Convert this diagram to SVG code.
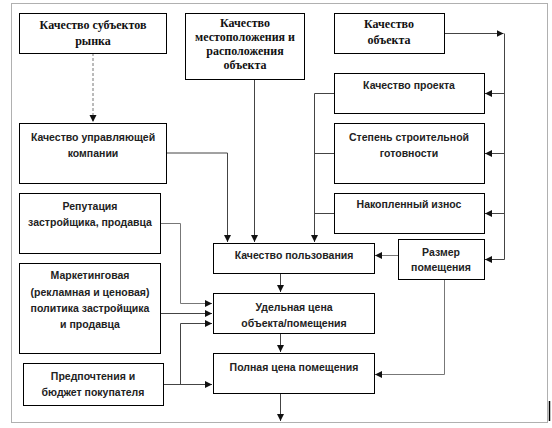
<svg xmlns="http://www.w3.org/2000/svg" width="552" height="428" viewBox="0 0 552 428">
<style>
.box{fill:#fff;stroke:#000;stroke-width:1}
.s{font-family:"Liberation Sans",Arial,sans-serif;font-weight:bold;font-size:10.5px;fill:#222;text-anchor:middle}
.t{font-family:"Liberation Serif","Times New Roman",serif;font-weight:bold;font-size:12px;fill:#111;text-anchor:middle}
.c{fill:none;stroke:#444;stroke-width:1}
.g{fill:none;stroke:#777;stroke-width:1}
</style>
<defs>
<marker id="a" markerUnits="userSpaceOnUse" markerWidth="8" markerHeight="8" refX="7" refY="3.5" orient="auto">
<path d="M0,0 L7,3.5 L0,7 z" fill="#111"/>
</marker>
</defs>
<rect x="0" y="0" width="552" height="428" fill="#fff"/>
<rect x="11.5" y="3.5" width="536" height="419" fill="none" stroke="#b0b0b0" stroke-width="1"/>
<line x1="549.5" y1="401" x2="549.5" y2="421" stroke="#000" stroke-width="1.5"/>

<g id="connectors">
<path class="g" d="M93,53 V122" stroke-dasharray="3,2" marker-end="url(#a)"/>
<path class="c" d="M167,153 H227.5 V242" marker-end="url(#a)"/>
<path class="c" d="M254.5,79 V242" marker-end="url(#a)"/>
<path class="c" d="M334,93.5 H314.5 V242" marker-end="url(#a)"/>
<path class="c" d="M334,153.5 H314.5"/>
<path class="c" d="M334,213.5 H314.5"/>
<path class="c" d="M444,33.5 H503.5" marker-end="url(#a)"/>
<path class="c" d="M504.5,33.5 V259.5 H485" marker-end="url(#a)"/>
<path class="c" d="M504.5,93.5 H485" marker-end="url(#a)"/>
<path class="c" d="M504.5,153.5 H485" marker-end="url(#a)"/>
<path class="c" d="M504.5,213.5 H485" marker-end="url(#a)"/>
<path class="g" d="M398,255.5 H375" marker-end="url(#a)"/>
<path class="g" d="M444.5,279 V374.5 H375" marker-end="url(#a)"/>
<path class="c" d="M280.5,273 V292" marker-end="url(#a)"/>
<path class="c" d="M280.5,333 V352" marker-end="url(#a)"/>
<path class="c" d="M280.5,393 V421" marker-end="url(#a)"/>
<path class="g" d="M160,223.5 H180.5 V303.5 H212" marker-end="url(#a)"/>
<path class="c" d="M160,313.5 H212" marker-end="url(#a)"/>
<path class="c" d="M163,384.5 H212" marker-end="url(#a)"/>
<path class="c" d="M180.5,384.5 V323.5 H212" marker-end="url(#a)"/>
</g>

<g id="n1"><rect class="box" x="19.5" y="13.5" width="147" height="40"/>
<text class="t" x="93" y="29">Качество субъектов</text><text class="t" x="93" y="45">рынка</text></g>
<g id="n2"><rect class="box" x="185.5" y="13.5" width="119" height="66"/>
<text class="t" x="245" y="27">Качество</text><text class="t" x="245" y="41">местоположения и</text><text class="t" x="245" y="55">расположения</text><text class="t" x="245" y="69">объекта</text></g>
<g id="n3"><rect class="box" x="334.5" y="13.5" width="110" height="40"/>
<text class="t" x="389" y="28">Качество</text><text class="t" x="389" y="44">объекта</text></g>
<g id="n4"><rect class="box" x="19.5" y="123.5" width="147" height="60"/>
<text class="s" x="93" y="141">Качество управляющей</text><text class="s" x="93" y="157">компании</text></g>
<g id="n5"><rect class="box" x="334.5" y="73.5" width="150" height="40"/>
<text class="s" x="409" y="89">Качество проекта</text></g>
<g id="n6"><rect class="box" x="334.5" y="123.5" width="150" height="60"/>
<text class="s" x="409" y="141">Степень строительной</text><text class="s" x="409" y="157">готовности</text></g>
<g id="n7"><rect class="box" x="334.5" y="193.5" width="150" height="40"/>
<text class="s" x="409" y="208">Накопленный износ</text></g>
<g id="n8"><rect class="box" x="19.5" y="193.5" width="141" height="60"/>
<text class="s" x="90" y="210">Репутация</text><text class="s" x="90" y="226">застройщика, продавца</text></g>
<g id="n9"><rect class="box" x="398.5" y="239.5" width="86" height="40"/>
<text class="s" x="441" y="256">Размер</text><text class="s" x="441" y="271">помещения</text></g>
<g id="n10"><rect class="box" x="213.5" y="243.5" width="161" height="30"/>
<text class="s" x="294" y="259">Качество пользования</text></g>
<g id="n11"><rect class="box" x="19.5" y="263.5" width="141" height="90"/>
<text class="s" x="90" y="279">Маркетинговая</text><text class="s" x="90" y="296">(рекламная и ценовая)</text><text class="s" x="90" y="312">политика застройщика</text><text class="s" x="90" y="328">и продавца</text></g>
<g id="n12"><rect class="box" x="213.5" y="293.5" width="161" height="40"/>
<text class="s" x="294" y="311">Удельная цена</text><text class="s" x="294" y="327">объекта/помещения</text></g>
<g id="n13"><rect class="box" x="213.5" y="353.5" width="161" height="40"/>
<text class="s" x="294" y="371">Полная цена помещения</text></g>
<g id="n14"><rect class="box" x="23.5" y="363.5" width="140" height="42"/>
<text class="s" x="93" y="380">Предпочтения и</text><text class="s" x="93" y="396">бюджет покупателя</text></g>
</svg>
